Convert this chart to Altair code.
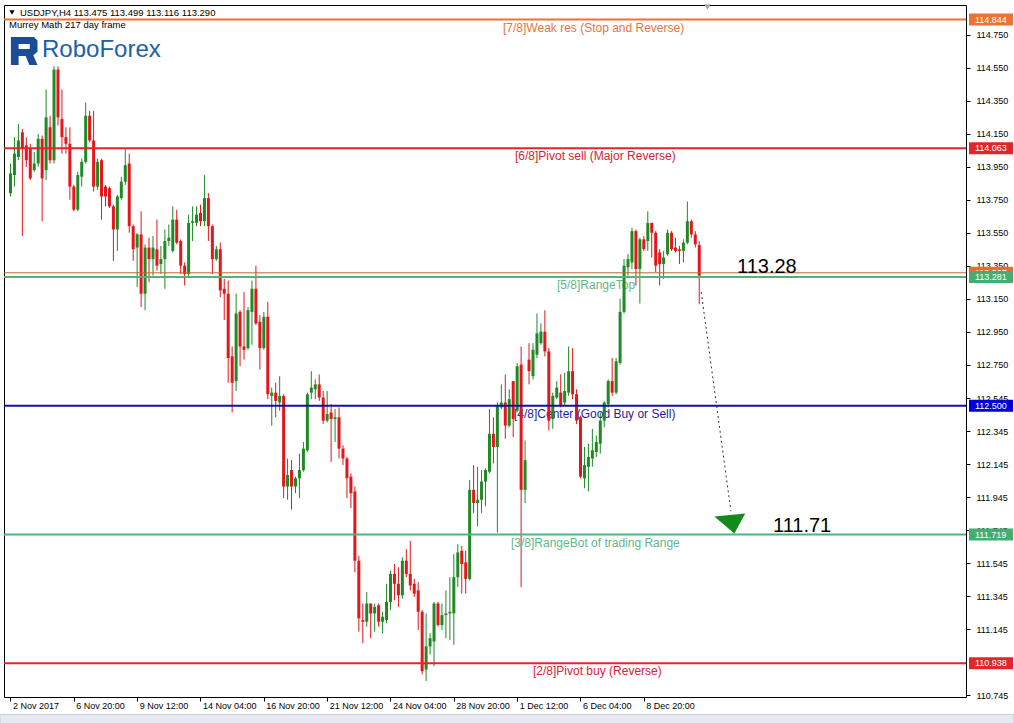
import altair as alt
import pandas as pd

# USDJPY H4 candles, oldest first (bar 0 = 2 Nov 2017)
opens = [113.79, 113.90, 114.01, 114.16, 114.08, 114.06, 113.93, 113.97, 114.12, 113.93,
         114.19, 113.99, 114.54, 114.24, 114.13, 114.09, 113.83, 113.69, 113.89, 113.98,
         114.26, 114.11, 113.83, 113.99, 113.83, 113.82, 113.71, 113.57, 113.76, 113.86,
         113.97, 113.59, 113.46, 113.54, 113.18, 113.46, 113.39, 113.45, 113.36, 113.39,
         113.50, 113.44, 113.63, 113.50, 113.35, 113.30, 113.61, 113.61, 113.67, 113.62,
         113.76, 113.59, 113.39, 113.45, 113.21, 113.18, 112.80, 112.65, 113.07, 112.86,
         112.85, 113.07, 113.21, 113.01, 112.85, 113.04, 112.56, 112.58, 112.52, 112.56,
         112.01, 112.11, 112.01, 112.06, 112.11, 112.23, 112.58, 112.60, 112.63, 112.55,
         112.41, 112.46, 112.42, 112.43, 112.24, 112.18, 112.07, 111.98, 111.56, 111.20,
         111.19, 111.30, 111.24, 111.29, 111.19, 111.20, 111.31, 111.48, 111.42, 111.35,
         111.56, 111.48, 111.42, 111.38, 111.25, 110.90, 111.04, 111.07, 111.30, 111.17,
         111.23, 111.24, 111.24, 111.46, 111.62, 111.55, 111.45, 111.99, 111.91, 111.93,
         112.04, 112.10, 112.33, 112.25, 112.49, 112.52, 112.38, 112.65, 112.47, 112.75,
         111.99, 112.78, 112.68, 112.81, 112.88, 112.95, 112.83, 112.42, 112.55, 112.58,
         112.52, 112.58, 112.71, 112.57, 112.43, 112.06, 112.13, 112.18, 112.22, 112.27,
         112.41, 112.51, 112.65, 112.58, 112.76, 113.07, 113.34, 113.37, 113.56, 113.33,
         113.51, 113.50, 113.61, 113.55, 113.43, 113.36, 113.42, 113.55, 113.46, 113.45,
         113.44, 113.49, 113.62, 113.54, 113.475]
highs = [113.97, 114.13, 114.21, 114.18, 114.13, 114.09, 114.04, 114.15, 114.14, 114.42,
         114.26, 114.56, 114.56, 114.42, 114.19, 114.19, 113.84, 113.92, 114.00, 114.34,
         114.29, 114.29, 114.00, 114.00, 113.84, 113.83, 113.72, 113.78, 113.89, 114.06,
         114.03, 113.60, 113.55, 113.68, 113.48, 113.52, 113.53, 113.63, 113.47, 113.57,
         113.60, 113.71, 113.69, 113.51, 113.37, 113.66, 113.71, 113.71, 113.72, 113.90,
         113.79, 113.60, 113.47, 113.49, 113.27, 113.26, 112.86, 113.18, 113.08, 113.19,
         113.10, 113.26, 113.35, 113.05, 113.07, 113.13, 112.61, 112.64, 112.68, 112.57,
         112.18, 112.17, 112.07, 112.21, 112.28, 112.58, 112.71, 112.66, 112.69, 112.59,
         112.59, 112.51, 112.48, 112.49, 112.26, 112.19, 112.09, 112.01, 111.59, 111.30,
         111.37, 111.30, 111.30, 111.30, 111.25, 111.42, 111.50, 111.54, 111.52, 111.58,
         111.63, 111.68, 111.45, 111.43, 111.26, 111.24, 111.12, 111.31, 111.31, 111.30,
         111.38, 111.46, 111.60, 111.66, 111.65, 111.62, 112.05, 112.14, 112.13, 112.11,
         112.12, 112.48, 112.43, 112.52, 112.63, 112.69, 112.60, 112.65, 112.76, 112.86,
         112.29, 112.88, 112.88, 113.06, 113.00, 113.08, 112.85, 112.58, 112.65, 112.69,
         112.70, 112.86, 112.85, 112.60, 112.44, 112.25, 112.27, 112.36, 112.32, 112.46,
         112.53, 112.66, 112.79, 112.79, 113.15, 113.39, 113.42, 113.58, 113.57, 113.52,
         113.53, 113.68, 113.61, 113.56, 113.45, 113.44, 113.57, 113.56, 113.52, 113.47,
         113.51, 113.74, 113.63, 113.56, 113.499]
lows = [113.77, 113.83, 113.99, 113.53, 113.95, 113.87, 113.92, 113.95, 113.62, 113.87,
        113.97, 113.97, 114.20, 114.03, 114.03, 113.75, 113.68, 113.68, 113.83, 113.97,
        114.10, 113.80, 113.81, 113.63, 113.71, 113.70, 113.38, 113.44, 113.75, 113.84,
        113.55, 113.38, 113.22, 113.10, 113.08, 113.25, 113.29, 113.32, 113.30, 113.21,
        113.47, 113.43, 113.48, 113.30, 113.23, 113.28, 113.50, 113.59, 113.59, 113.59,
        113.50, 113.30, 113.38, 113.16, 113.02, 112.64, 112.46, 112.59, 112.74, 112.78,
        112.84, 112.87, 112.99, 112.72, 112.84, 112.54, 112.38, 112.43, 112.47, 111.94,
        111.93, 111.87, 111.97, 111.94, 112.10, 112.22, 112.54, 112.54, 112.53, 112.39,
        112.40, 112.16, 112.28, 112.18, 112.14, 111.94, 111.88, 111.49, 111.13, 111.06,
        111.16, 111.09, 111.13, 111.16, 111.12, 111.18, 111.26, 111.32, 111.28, 111.33,
        111.46, 111.38, 111.34, 111.14, 110.87, 110.83, 110.99, 110.92, 111.16, 111.14,
        111.09, 111.08, 111.05, 111.40, 111.36, 111.36, 111.44, 111.85, 111.77, 111.85,
        111.89, 112.09, 112.15, 111.73, 112.48, 112.30, 112.37, 112.31, 112.46, 111.40,
        111.91, 112.63, 112.66, 112.79, 112.87, 112.80, 112.35, 112.36, 112.54, 112.49,
        112.50, 112.56, 112.54, 112.39, 112.06, 112.00, 111.98, 112.13, 112.19, 112.21,
        112.37, 112.49, 112.56, 112.57, 112.75, 113.06, 113.29, 113.33, 113.23, 113.12,
        113.44, 113.44, 113.40, 113.31, 113.23, 113.27, 113.41, 113.44, 113.43, 113.36,
        113.37, 113.48, 113.52, 113.46, 113.116]
closes = [113.91, 114.03, 114.11, 114.06, 113.99, 113.88, 113.97, 114.12, 113.88, 114.25,
          113.99, 114.54, 114.25, 114.13, 114.09, 113.83, 113.69, 113.90, 113.98, 114.26,
          114.11, 113.83, 113.98, 113.77, 113.77, 113.71, 113.57, 113.77, 113.86, 113.96,
          113.59, 113.45, 113.54, 113.18, 113.46, 113.39, 113.46, 113.35, 113.39, 113.50,
          113.52, 113.63, 113.49, 113.35, 113.30, 113.61, 113.62, 113.66, 113.62, 113.76,
          113.59, 113.39, 113.45, 113.20, 113.18, 112.79, 112.64, 113.06, 112.86, 112.84,
          113.08, 113.21, 113.00, 112.85, 113.04, 112.57, 112.58, 112.53, 112.56, 112.01,
          112.08, 112.01, 112.06, 112.11, 112.24, 112.57, 112.61, 112.63, 112.55, 112.41,
          112.45, 112.42, 112.43, 112.24, 112.18, 112.06, 111.97, 111.56, 111.21, 111.19,
          111.30, 111.24, 111.28, 111.19, 111.22, 111.31, 111.48, 111.42, 111.35, 111.56,
          111.48, 111.41, 111.36, 111.25, 110.89, 111.04, 111.09, 111.30, 111.17, 111.23,
          111.24, 111.25, 111.46, 111.61, 111.54, 111.45, 111.99, 111.91, 111.93, 112.04,
          112.11, 112.33, 112.25, 112.50, 112.52, 112.38, 112.54, 112.42, 112.74, 111.99,
          112.17, 112.71, 112.84, 112.94, 112.95, 112.83, 112.41, 112.56, 112.61, 112.50,
          112.59, 112.71, 112.57, 112.41, 112.07, 112.14, 112.19, 112.23, 112.28, 112.41,
          112.52, 112.65, 112.58, 112.77, 113.07, 113.35, 113.39, 113.56, 113.33, 113.51,
          113.45, 113.61, 113.55, 113.35, 113.36, 113.40, 113.55, 113.45, 113.44, 113.44,
          113.49, 113.62, 113.54, 113.48, 113.290]

# time axis: bar index -> label
time_tick_bars = [0, 16, 32, 48, 64, 80, 96, 112, 128, 144, 160]
time_tick_labels = ["2 Nov 2017", "6 Nov 20:00", "9 Nov 12:00", "14 Nov 04:00",
                    "16 Nov 20:00", "21 Nov 12:00", "24 Nov 04:00", "28 Nov 20:00",
                    "1 Dec 12:00", "6 Dec 04:00", "8 Dec 20:00"]

# price scale ticks
price_ticks = [114.75, 114.55, 114.35, 114.15, 113.95, 113.75, 113.55, 113.35, 113.15,
               112.95, 112.75, 112.545, 112.345, 112.145, 111.945, 111.745, 111.545,
               111.345, 111.145, 110.745]

# Murrey Math levels
murrey_levels = [114.844, 114.063, 113.281, 112.500, 111.719, 110.938]
murrey_names = ["[7/8]Weak res (Stop and Reverse)", "[6/8]Pivot sell (Major Reverse)",
                "[5/8]RangeTop", "[4/8]Center (Good Buy or Sell)",
                "[3/8]RangeBot of trading Range", "[2/8]Pivot buy (Reverse)"]

ask_price = 113.307
target_from, target_to = 113.28, 111.71
forecast_bars = [174.5, 182.0]
forecast_prices = [113.19, 111.86]
marker_bar, marker_price = 182.1, 111.80

header = "USDJPY,H4  113.475 113.499 113.116 113.290"
subheader = "Murrey Math 217 day frame"

# ---- styling ----
GREEN_C = "#1F8A24"
RED_C = "#E3161B"
ORANGE = "#EA7335"
RED_L = "#E0262B"
GREEN_L = "#4FB47C"
NAVY = "#12129A"
level_line_colors = [ORANGE, RED_L, GREEN_L, NAVY, GREEN_L, RED_L]
level_text_colors = ["#E8743B", "#D8242C", "#5FB887", "#1C1C9C", "#5FB887", "#D8242C"]
level_box_colors = [ORANGE, RED_L, "#43AE72", "#0000D8", "#43AE72", RED_L]
level_text_x = [499, 511, 553, 510, 507, 529]
FONT = "Liberation Sans"

W, H = 962, 692
xscale = alt.Scale(domain=[-0.375, 240.125], nice=False, zero=False)
yscale = alt.Scale(domain=[110.733, 114.932], nice=False, zero=False)

candles = pd.DataFrame({
    "i": list(range(len(opens))),
    "o": opens, "h": highs, "l": lows, "c": closes,
})

expr = "''"
for b, t in reversed(list(zip(time_tick_bars, time_tick_labels))):
    expr = f"datum.value == {b} ? '{t}' : ({expr})"

x_axis = alt.Axis(values=time_tick_bars, labelExpr=expr, title=None, grid=False,
                  domain=False, tickSize=4, tickColor="black", labelAlign="left",
                  labelBaseline="top", labelOffset=2, labelPadding=0, labelFont=FONT,
                  labelFontSize=9, labelColor="black", labelFlush=False,
                  labelOverlap=False, labelBound=False)
y_axis = alt.Axis(orient="right", values=price_ticks, format=".3f", title=None,
                  grid=False, domain=False, tickSize=4, tickColor="black",
                  labelPadding=6, labelFont=FONT, labelFontSize=9, labelColor="black",
                  labelOverlap=False, labelBound=False, labelFlush=False)


def X(field):
    return alt.X(field, scale=xscale, axis=x_axis)


def Y(field):
    return alt.Y(field, scale=yscale, axis=y_axis)


bull = "datum.c >= datum.o"

wicks = alt.Chart(candles).mark_rule(strokeWidth=1).encode(
    x=X("i:Q"), y=Y("l:Q"), y2="h:Q",
    color=alt.condition(bull, alt.value(GREEN_C), alt.value(RED_C)),
)
bodies = alt.Chart(candles).mark_bar(size=3).encode(
    x=X("i:Q"), y=Y("o:Q"), y2="c:Q",
    color=alt.condition(bull, alt.value(GREEN_C), alt.value(RED_C)),
)

levels_df = pd.DataFrame({
    "level": murrey_levels, "name": murrey_names,
    "line_color": level_line_colors, "text_color": level_text_colors,
    "box_color": level_box_colors, "tx": level_text_x,
})

level_lines = alt.Chart(levels_df).mark_rule(strokeWidth=2).encode(
    y=Y("level:Q"),
    color=alt.Color("line_color:N", scale=None),
)
level_texts = alt.Chart(levels_df).mark_text(
    align="left", baseline="middle", dy=8, font=FONT, fontSize=12
).encode(
    x=alt.X("tx:Q", scale=None),
    y=Y("level:Q"),
    text="name:N",
    color=alt.Color("text_color:N", scale=None),
)

ask_df = pd.DataFrame({"p": [ask_price], "t": [f"{ask_price:.3f}"]})
ask_line = alt.Chart(ask_df).mark_rule(strokeWidth=1, color="#C8622C").encode(
    y=Y("p:Q"))

targets_df = pd.DataFrame({"p": [target_from, target_to], "tx": [733, 769],
                           "t": [f"{target_from:.2f}", f"{target_to:.2f}"]})
target_text = alt.Chart(targets_df).mark_text(
    align="left", baseline="alphabetic", dy=-4, font=FONT, fontSize=20, color="black"
).encode(x=alt.X("tx:Q", scale=None), y=Y("p:Q"), text="t:N")

forecast_df = pd.DataFrame({"i": forecast_bars, "p": forecast_prices})
forecast_line = alt.Chart(forecast_df).mark_line(
    strokeWidth=1, strokeDash=[2, 3], color="#333333"
).encode(x=X("i:Q"), y=Y("p:Q"))

marker_df = pd.DataFrame({"i": [marker_bar], "p": [marker_price]})
marker = alt.Chart(marker_df).mark_point(
    shape="M -1 -0.28 L 0.82 -0.45 L 0.18 0.72 Z", size=1156, filled=True,
    opacity=1, strokeWidth=0, color="#14891C"
).encode(x=X("i:Q"), y=Y("p:Q"))

# price boxes on the right scale
BOX_SHAPE = "M -1 -0.2727 L 1 -0.2727 L 1 0.2727 L -1 0.2727 Z"
ask_box = alt.Chart(ask_df).mark_point(
    shape=BOX_SHAPE, size=1936, filled=True, opacity=1, strokeWidth=0, color="#E0702F"
).encode(x=alt.value(987), y=Y("p:Q"))
ask_box_text = alt.Chart(ask_df).mark_text(
    align="left", baseline="middle", font=FONT, fontSize=9, color="white"
).encode(x=alt.value(971), y=Y("p:Q"), text="t:N")

box_df = pd.DataFrame({
    "level": murrey_levels,
    "box_color": level_box_colors,
    "t": [f"{v:.3f}" for v in murrey_levels],
})
boxes = alt.Chart(box_df).mark_point(
    shape=BOX_SHAPE, size=1936, filled=True, opacity=1, strokeWidth=0
).encode(
    x=alt.value(987), y=Y("level:Q"),
    color=alt.Color("box_color:N", scale=None),
)
box_text = alt.Chart(box_df).mark_text(
    align="left", baseline="middle", font=FONT, fontSize=9, color="white"
).encode(x=alt.value(971), y=Y("level:Q"), text="t:N")

# header, sub header and logo
hdr_df = pd.DataFrame({"t": [header, subheader], "x": [16, 5], "y": [7.5, 20]})
hdr = alt.Chart(hdr_df).mark_text(align="left", baseline="middle", font=FONT,
                                  fontSize=9.5, color="black").encode(
    x=alt.X("x:Q", scale=None), y=alt.Y("y:Q", scale=None), text="t:N")
hdr_arrow = alt.Chart(pd.DataFrame({"a": [0]})).mark_point(
    shape="triangle-down", size=28, filled=True, opacity=1, color="black"
).encode(x=alt.value(8), y=alt.value(7.5))

logo_icon = alt.Chart(pd.DataFrame({"a": [0]})).mark_point(
    shape=("M -0.9 -1 L 0.75 -1 L 1 -0.75 L 1 0.05 L 0.7 0.3 L 1 1 L 0.42 1 "
           "L 0.15 0.35 L -0.35 0.35 L -0.35 1 L -0.9 1 Z "
           "M -0.35 -0.5 L -0.35 -0.15 L 0.45 -0.15 L 0.45 -0.5 Z"),
    size=784, filled=True, opacity=1, strokeWidth=0, color="#1B4D96"
).encode(x=alt.value(19.5), y=alt.value(46))
logo_text = alt.Chart(pd.DataFrame({"t": ["RoboForex"]})).mark_text(
    align="left", baseline="alphabetic", font=FONT, fontSize=24, color="#2060AA"
).encode(x=alt.value(38), y=alt.value(52), text="t:N")

scroll_mark = alt.Chart(pd.DataFrame({"a": [0]})).mark_point(
    shape="triangle-down", size=40, filled=True, opacity=1, color="#A8A8A8"
).encode(x=alt.value(703.5), y=alt.value(2))

# terminal status strip under the time scale
status_strip = alt.Chart(pd.DataFrame({"a": [0]})).mark_rect(
    color="#E6EAF0", stroke="#C8CDD4", strokeWidth=1
).encode(x=alt.value(-4), x2=alt.value(1010), y=alt.value(709.5), y2=alt.value(719))

chart = alt.layer(
    wicks, level_texts, bodies, level_lines, ask_line, target_text, forecast_line,
    marker, hdr, hdr_arrow, logo_icon, logo_text, ask_box, ask_box_text,
    boxes, box_text, scroll_mark, status_strip,
).properties(
    width=W, height=H,
    autosize=alt.AutoSizeParams(type="none"),
    padding={"left": 4, "top": 5, "right": 48, "bottom": 26},
    background="white",
).configure_view(stroke="black", strokeWidth=1).configure_axis(labelOverlap=False)

chart.save("out.html", embed_options={"renderer": "svg", "actions": False})
